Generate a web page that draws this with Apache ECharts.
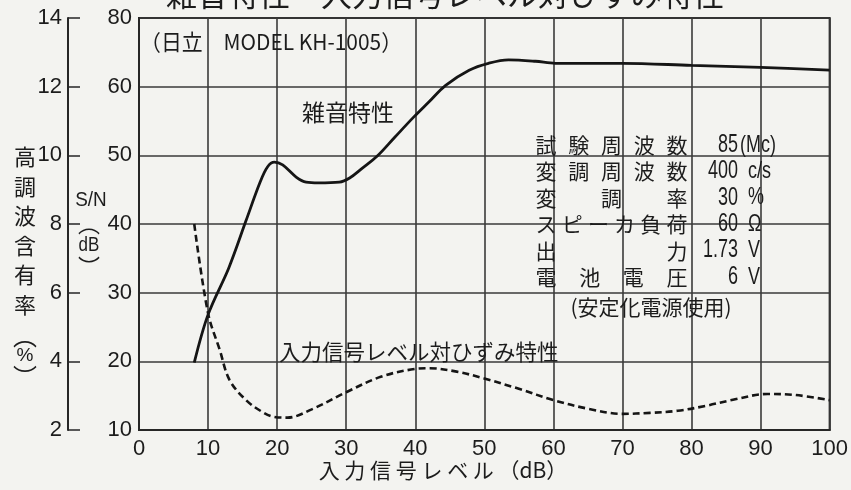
<!DOCTYPE html>
<html><head><meta charset="utf-8">
<script src="https://cdn.jsdelivr.net/npm/echarts@6/dist/echarts.min.js"></script>
<style>html,body{margin:0;padding:0;background:#f3f3f0}#c{width:851px;height:490px}</style>
</head><body><div id="c"></div>
<script>
// ---- data ----
const titleText = '雑音特性・入力信号レベル対ひずみ特性';
const xTickLabels = ['0','10','20','30','40','50','60','70','80','90','100'];
const snTickLabels = ['10','20','30','40','50','60','80'];          // printed S/N labels (top line printed as 80)
const harmTickLabels = ['2','4','6','8','10','12','14'];

const noiseX  = [8, 10, 13, 15.5, 17.5, 18.6, 19.6, 20.8, 22.8, 24.2, 26, 29, 30.5, 32.3, 34.5, 37, 39.8, 42, 44.4, 47.8, 50.6, 53.5, 57.4, 60.3, 70, 80, 90, 100];
const noiseSN = [19.8, 26.8, 33.6, 40.5, 46, 48.3, 49, 48.6, 46.8, 46.1, 46, 46.1, 46.7, 48.1, 49.9, 52.6, 55.6, 57.8, 60.2, 62.4, 63.4, 63.9, 63.7, 63.4, 63.4, 63.1, 62.8, 62.4];

const distX = [8, 10, 11.7, 13.1, 15.5, 17.9, 19.6, 21.5, 25, 30, 35, 40, 42, 46, 50, 55, 60, 65, 70, 74, 78, 82, 86, 91, 95, 100];
const distH = [8.0, 5.4, 4.33, 3.46, 2.87, 2.52, 2.38, 2.36, 2.6, 3.1, 3.55, 3.78, 3.8, 3.7, 3.5, 3.2, 2.87, 2.62, 2.47, 2.5, 2.56, 2.7, 2.88, 3.05, 3.02, 2.87];

const modelText = '（日立　MODEL KH-1005）';
const noiseLabel = '雑音特性';
const distLabel = '入力信号レベル対ひずみ特性';
const paramLabels = ['試験周波数','変調周波数','変調率','スピーカ負荷','出力','電池電圧'];
const paramValues = ['85','400','30','60','1.73','6'];
const paramUnits  = ['(Mc)','c/s','%','Ω','V','V'];
const paramNote = '(安定化電源使用)';
const xName = '入 力 信 号 レ ベ ル （dB）';
const harmName = ['高','調','波','含','有','率'];
const snName = 'S/N';

// ---- styles ----
const ink = '#1c1c1c';
const CJK = '"Noto Sans CJK JP", sans-serif';
const NUM = '"Liberation Sans", Arial, sans-serif';

const graphics = [];
function txt(x, y, text, size, align, font, extra, sx) {
  graphics.push({type:'text', x:x, y:y, scaleX: sx || 1, silent:true, z:100,
    style:Object.assign({text:text, fontSize:size, fontFamily:font||CJK, fill:ink,
      textAlign:align||'left', align:align||'left', textVerticalAlign:'middle', verticalAlign:'middle'}, extra||{})});
}
txt(445, -6, titleText, 31, 'center');
txt(140, 42, modelText, 22, 'left', null, null, 0.95);
txt(302, 112, noiseLabel, 23, 'left');
txt(279, 352, distLabel, 21.5, 'left');
// parameter block
for (let i = 0; i < paramLabels.length; i++) {
  const y = 145 + i * 26.4;
  const chars = Array.from(paramLabels[i]);
  const n = chars.length;
  for (let k = 0; k < n; k++) {
    const cx = 546 + (n > 1 ? k * (131 / (n - 1)) : 0);
    txt(cx, y, chars[k], 21, 'center');
  }
  txt(738, y, paramValues[i], 25, 'right', NUM, null, 0.72);
  txt(i === 0 ? 740 : 748, y, paramUnits[i], 24, 'left', NUM, null, 0.75);
}
txt(651, 307, paramNote, 21, 'center');
txt(443, 470, xName, 21, 'center');
// vertical axis names
for (let k = 0; k < harmName.length; k++) txt(25, 157 + k * 29.5, harmName[k], 22, 'center');
txt(25, 336, '︵', 24, 'center');
txt(25, 356, '%', 19, 'center', NUM);
txt(25, 377, '︶', 24, 'center');
txt(91, 200, snName, 21, 'center', NUM, null, 0.9);
txt(89, 224, '︵', 22, 'center');
txt(89, 245, 'dB', 20, 'center', NUM, null, 0.85);
txt(89, 267, '︶', 22, 'center');

const noiseData = noiseX.map((x, i) => [x, noiseSN[i]]);
const distData = distX.map((x, i) => [x, distH[i]]);

const axisLabelBase = {color: ink, fontSize: 22, fontFamily: NUM};

const chart = echarts.init(document.getElementById('c'), null, {renderer:'canvas'});
chart.setOption({
  backgroundColor: '#f3f3f0',
  animation: false,
  grid: {left: 139, right: 19, top: 18, bottom: 60, show: true, borderColor: '#262626', borderWidth: 2, backgroundColor: 'transparent'},
  xAxis: {
    type: 'value', min: 0, max: 100, interval: 10,
    axisLine: {show: true, lineStyle: {color: '#262626', width: 2}},
    axisTick: {show: false},
    splitLine: {show: true, lineStyle: {color: '#3a3a3a', width: 1.6}},
    axisLabel: Object.assign({margin: 8, formatter: (v) => xTickLabels[Math.round(v / 10)]}, axisLabelBase)
  },
  yAxis: [
    {
      type: 'value', min: 10, max: 70, interval: 10, position: 'left',
      axisLine: {show: true, lineStyle: {color: '#262626', width: 2}},
      axisTick: {show: false},
      splitLine: {show: true, lineStyle: {color: '#3a3a3a', width: 1.6}},
      axisLabel: Object.assign({margin: 7, formatter: (v) => snTickLabels[Math.round((v - 10) / 10)]}, axisLabelBase)
    },
    {
      type: 'value', min: 2, max: 14, interval: 2, position: 'left', offset: 71,
      axisLine: {show: true, lineStyle: {color: '#262626', width: 2}},
      axisTick: {show: true, inside: true, length: 12, lineStyle: {color: '#262626', width: 1.5}},
      splitLine: {show: false},
      axisLabel: Object.assign({margin: 6, formatter: (v) => harmTickLabels[Math.round((v - 2) / 2)]}, axisLabelBase)
    }
  ],
  series: [
    {type: 'line', yAxisIndex: 0, data: noiseData, smooth: 0.35, showSymbol: false, z: 10,
     lineStyle: {color: '#151515', width: 2.8}},
    {type: 'line', yAxisIndex: 1, data: distData, smooth: 0.35, showSymbol: false, z: 10,
     lineStyle: {color: '#151515', width: 2.6, type: [7, 4]}}
  ],
  graphic: graphics
});
</script></body></html>
